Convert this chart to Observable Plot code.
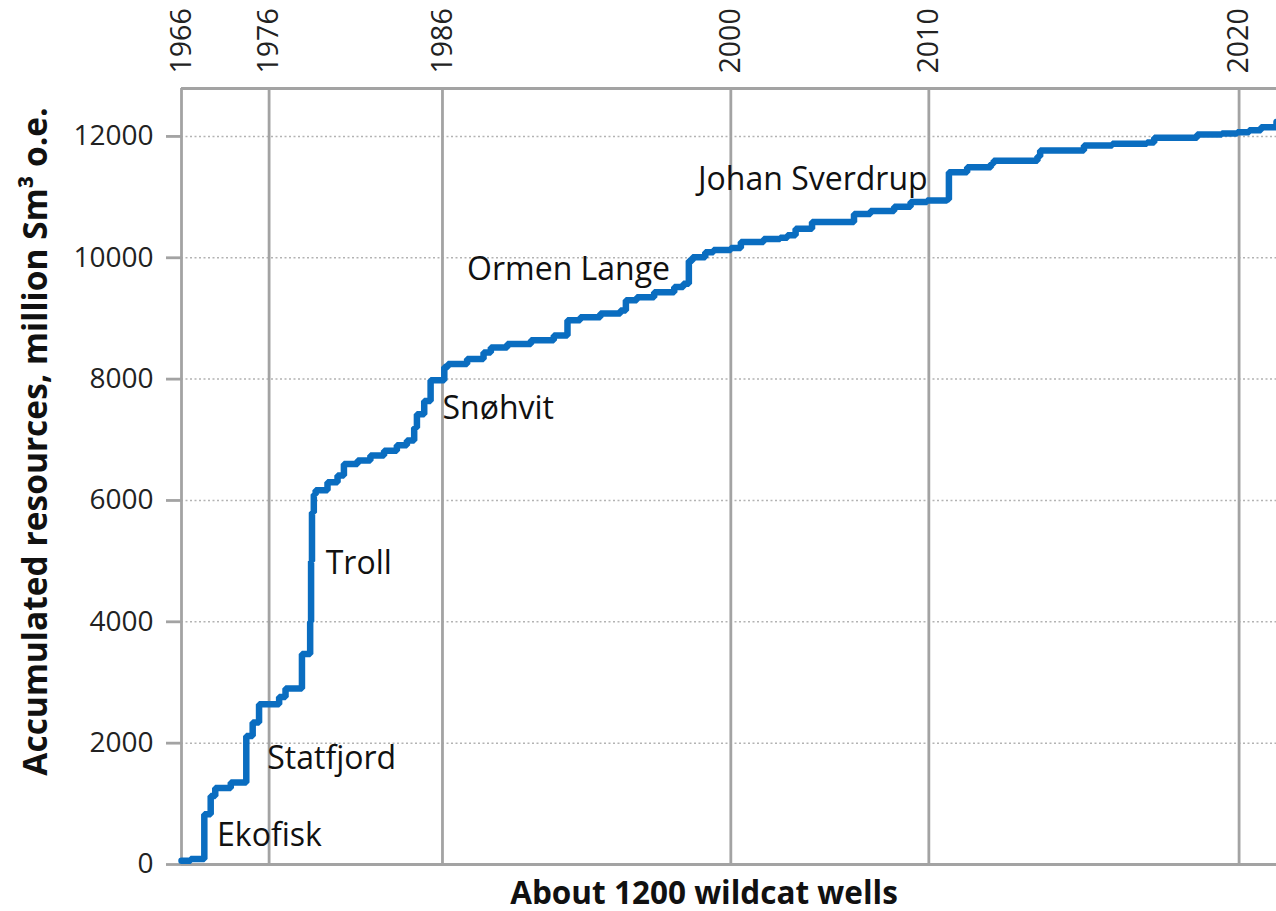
<!DOCTYPE html>
<html>
<head>
<meta charset="utf-8">
<script src="https://cdn.jsdelivr.net/npm/d3@7"></script>
<script src="https://cdn.jsdelivr.net/npm/@observablehq/plot@0.6"></script>
<style>
  html, body { margin: 0; padding: 0; background: #fff; }
  svg { display: block; }
</style>
</head>
<body>
<div id="chart"></div>
<script>
// Cumulative discovered resources vs. wildcat well number (step points)
const wells = [0, 10, 25, 32, 37, 54, 71, 78, 85, 107, 114, 132, 141, 142, 143, 145, 147, 160, 171, 178, 193, 207, 222, 236, 247, 255, 258, 266, 273, 288, 292, 313, 331, 339, 357, 383, 408, 423, 437, 459, 481, 487, 499, 518, 540, 550, 556, 560, 574, 583, 602, 613, 638, 656, 664, 673, 691, 737, 755, 781, 799, 817, 839, 841, 861, 887, 890, 938, 941, 989, 1020, 1058, 1066, 1113, 1140, 1157, 1170, 1183, 1200];
const resources = [60, 90, 830, 1130, 1260, 1350, 2120, 2340, 2640, 2760, 2900, 3470, 4000, 5000, 5800, 6100, 6170, 6300, 6410, 6600, 6660, 6740, 6820, 6910, 6990, 7200, 7420, 7640, 7980, 8200, 8250, 8330, 8440, 8520, 8580, 8640, 8720, 8970, 9020, 9080, 9130, 9300, 9350, 9430, 9520, 9570, 9950, 10010, 10090, 10130, 10160, 10260, 10310, 10330, 10370, 10480, 10590, 10720, 10770, 10840, 10920, 10945, 10960, 11410, 11490, 11550, 11600, 11670, 11770, 11850, 11880, 11900, 11980, 12030, 12050, 12070, 12100, 12150, 12240];

// Year markers (well number at which each year starts)
const yearLabels = ["1966", "1976", "1986", "2000", "2010", "2020"];
const yearWells = [0, 96, 286, 602, 819, 1159];

// Y axis ticks
const yTicks = [0, 2000, 4000, 6000, 8000, 10000, 12000];
const yMax = 12790;
const xMax = 1200;

// Field annotations (anchor at text start / baseline)
const fieldNames = ["Ekofisk", "Statfjord", "Troll", "Snøhvit", "Ormen Lange", "Johan Sverdrup"];
const fieldWells = [39, 94, 158, 286, 313, 566];
const fieldValues = [313, 1582, 4792, 7346, 9626, 11109];

const xTitle = "About 1200 wildcat wells";
const yTitle = "Accumulated resources, million Sm³ o.e.";

const series = wells.map((w, i) => ({well: w, value: resources[i]}));
const years = yearWells.map((w, i) => ({well: w, year: yearLabels[i]}));
const fields = fieldNames.map((n, i) => ({name: n, well: fieldWells[i], value: fieldValues[i]}));

const gray = "#a3a3a3";

const chart = Plot.plot({
  width: 1276,
  height: 911,
  marginLeft: 181,
  marginRight: 0,
  marginTop: 88,
  marginBottom: 47,
  x: {domain: [0, xMax], axis: null},
  y: {domain: [0, yMax]},
  style: {fontFamily: "'Open Sans', sans-serif", background: "#fff", color: "#1a1a1a"},
  marks: [
    Plot.ruleY(yTicks.slice(1), {stroke: "#b3b3b3", strokeWidth: 1.5, strokeDasharray: "2,2.5"}),
    Plot.ruleX(yearWells, {stroke: gray, strokeWidth: 2.8}),
    Plot.ruleY([yMax], {stroke: gray, strokeWidth: 2.8}),
    Plot.ruleY([0], {stroke: gray, strokeWidth: 2.8}),
    Plot.axisY({ticks: yTicks, tickSize: 15, tickPadding: 13, tickFormat: d => String(d), fontSize: 28, stroke: gray, strokeWidth: 2.8, fill: "#222", label: null}),
    Plot.line(series, {x: "well", y: "value", curve: "step-after", stroke: "#0a6dc0", strokeWidth: 6.5, strokeLinejoin: "miter"}),
    Plot.text(years, {x: "well", text: "year", frameAnchor: "top", rotate: -90, textAnchor: "start", lineAnchor: "middle", dy: -15, fontSize: 28.5, fill: "#222"}),
    Plot.text(fields, {x: "well", y: "value", text: "name", textAnchor: "start", lineAnchor: "bottom", fontSize: 32, fill: "#111"}),
    Plot.text([yTitle], {text: d => d, frameAnchor: "left", rotate: -90, dx: -145, dy: -35, textAnchor: "middle", lineAnchor: "middle", fontSize: 33.5, fontWeight: "bold", fill: "#111"}),
    Plot.text([xTitle], {text: d => d, frameAnchor: "bottom", dx: -25, dy: 39, textAnchor: "middle", lineAnchor: "bottom", fontSize: 31.5, fontWeight: "bold", fill: "#111"})
  ]
});

document.getElementById("chart").appendChild(chart);
</script>
</body>
</html>
